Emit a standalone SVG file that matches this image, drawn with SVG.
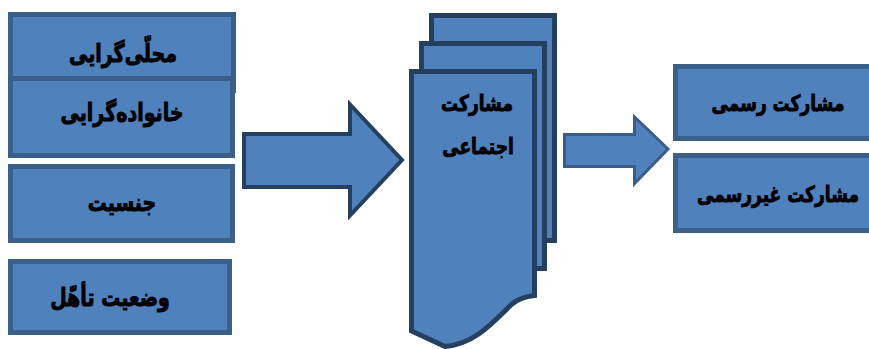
<svg xmlns="http://www.w3.org/2000/svg" width="869" height="349" viewBox="0 0 869 349">
<style>
.box{fill:#4F81BD;stroke:#3A5F8B;stroke-width:5}
.page{fill:#4F81BD;stroke:#243F60;stroke-width:5}
.arr1{fill:#4F81BD;stroke:#243F60;stroke-width:4;stroke-linejoin:miter}
.arr2{fill:#4F81BD;stroke:#385D8A;stroke-width:3;stroke-linejoin:miter}
.t{font-family:"DejaVu Sans",sans-serif;font-weight:bold;font-size:19px;fill:#000;stroke:#000;stroke-width:0.7;text-anchor:middle}
.s{font-size:17px}
</style>
<rect width="869" height="349" fill="#fff"/>
<g id="n1"><rect class="box" x="10.5" y="14.5" width="223" height="76"/><text class="t" transform="translate(123,62) scale(1,1.3)" direction="rtl">محلّی‌گرایی</text></g>
<g id="n2"><rect class="box" x="10.5" y="78.5" width="222" height="77"/><text class="t" transform="translate(122,121) scale(1,1.3)" direction="rtl">خانواده‌گرایی</text></g>
<g id="n3"><rect class="box" x="10.5" y="166.5" width="222" height="74"/><text class="t" transform="translate(122,211) scale(1,1.3)" direction="rtl">جنسیت</text></g>
<g id="n4"><rect class="box" x="10.5" y="261.5" width="219" height="71"/><text class="t" transform="translate(110,306) scale(1,1.3)" direction="rtl">وضعیت تأهّل</text></g>
<g id="connectors">
<path class="arr1" d="M244,134 H350 V104.5 L402,160 L350,215.5 V187 H244 Z"/>
<path class="arr2" d="M564.5,134.5 H634.5 V117 L668,149 L634.5,183.5 V166.5 H564.5 Z"/>
</g>
<g id="n5">
<rect class="page" x="431.5" y="15.5" width="123" height="225"/>
<rect class="page" x="421.5" y="43.5" width="123" height="225"/>
<path class="page" d="M411.5,71.5 H534.5 V295.5 C526,296.5 519,298 512,304 C495,320 476,344 445,346.5 L411.5,331 Z"/>
<text class="t s" transform="translate(477,111) scale(1,1.3)" direction="rtl">مشارکت</text>
<text class="t s" transform="translate(478,154) scale(1,1.3)" direction="rtl">اجتماعی</text>
</g>
<g id="n6"><rect class="box" x="675.5" y="66.5" width="200" height="72"/><text class="t s" transform="translate(778,111) scale(1,1.3)" direction="rtl">مشارکت رسمی</text></g>
<g id="n7"><rect class="box" x="675.5" y="155.5" width="200" height="75"/><text class="t s" transform="translate(778,202) scale(1,1.3)" direction="rtl">مشارکت غیررسمی</text></g>
</svg>
